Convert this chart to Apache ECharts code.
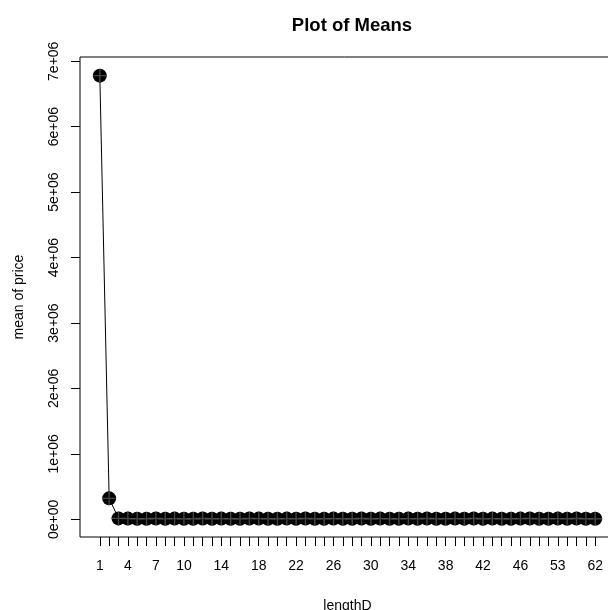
<!DOCTYPE html>
<html>
<head>
  <meta charset="UTF-8">
  <title>Plot of Means</title>
  <script src="https://cdn.jsdelivr.net/npm/echarts@6/dist/echarts.min.js"></script>
  <style>
    html, body { margin: 0; padding: 0; background: #fff; }
    #chart { width: 608px; height: 610px; }
  </style>
</head>
<body>
  <div id="chart"></div>
  <script>
    // levels of lengthD (factor) and the mean price of each level
    var lengthD = [
      1, 2, 3, 4, 5, 6, 7, 8, 9, 10,
      11, 12, 13, 14, 15, 16, 17, 18, 19, 20,
      21, 22, 23, 24, 25, 26, 27, 28, 29, 30,
      31, 32, 33, 34, 35, 36, 37, 38, 39, 40,
      41, 42, 43, 44, 45, 46, 48, 50, 51, 53,
      55, 57, 60, 62
    ];
    var meanPrice = [
      6780000, 321000, 14000, 11000, 9000, 10000, 12000, 9000, 11000, 10000,
      9000, 12000, 10000, 11000, 9000, 10000, 12000, 11000, 9000, 10000,
      11000, 10000, 12000, 9000, 10000, 11000, 10000, 9000, 12000, 10000,
      11000, 10000, 9000, 11000, 10000, 12000, 10000, 9000, 11000, 10000,
      12000, 10000, 11000, 9000, 10000, 11000, 12000, 10000, 9000, 11000,
      10000, 12000, 9000, 10000
    ];
    // tick labels that R kept on the x axis
    var xLabels = [1, 4, 7, 10, 14, 18, 22, 26, 30, 34, 38, 42, 46, 53, 62];
    var yTicks = [0, 1e6, 2e6, 3e6, 4e6, 5e6, 6e6, 7e6];

    var pos = lengthD.map(function (v, i) { return i + 1; });
    var points = pos.map(function (p, i) { return [p, meanPrice[i]]; });
    var labelPos = xLabels.map(function (v) { return lengthD.indexOf(v) + 1; });

    function sci(v) {
      if (v === 0) return '0e+00';
      var e = Math.floor(Math.log10(v) + 1e-9);
      var m = Math.round(v / Math.pow(10, e));
      return m + 'e+' + (e < 10 ? '0' + e : e);
    }

    var n = pos.length;
    var pad = (n - 1) * 0.04;
    var font = 'Liberation Sans, Arial, Helvetica, sans-serif';

    var chart = echarts.init(document.getElementById('chart'));
    chart.setOption({
      animation: false,
      backgroundColor: '#fff',
      title: {
        text: 'Plot of Means',
        left: 347, top: 11, textAlign: 'center',
        textStyle: { fontFamily: font, fontSize: 18.5, fontWeight: 'bold', color: '#000' }
      },
      grid: {
        left: 80, top: 57, right: -7, bottom: 73,
        outerBoundsMode: 'none', containLabel: false,
        show: true, borderColor: '#000', borderWidth: 1, backgroundColor: 'transparent'
      },
      xAxis: {
        type: 'value',
        min: 1 - pad, max: n + pad,
        name: 'lengthD', nameLocation: 'middle', nameGap: 62,
        nameTextStyle: { fontFamily: font, fontSize: 14, color: '#000' },
        splitLine: { show: false },
        axisLine: { show: false, onZero: false },
        axisTick: { show: true, length: 9, customValues: pos, lineStyle: { color: '#000', width: 1 } },
        axisLabel: {
          customValues: labelPos, margin: 22,
          fontFamily: font, fontSize: 14, color: '#000',
          formatter: function (v) { return String(lengthD[Math.round(v) - 1]); }
        }
      },
      yAxis: {
        type: 'value',
        min: -270000, max: 7065000,
        name: 'mean of price', nameLocation: 'middle', nameGap: 54, nameRotate: 90,
        nameTextStyle: { fontFamily: font, fontSize: 14, color: '#000' },
        splitLine: { show: false },
        axisLine: { show: false, onZero: false },
        axisTick: { show: true, length: 9, customValues: yTicks, lineStyle: { color: '#000', width: 1 } },
        axisLabel: {
          customValues: yTicks, rotate: 90, margin: 19,
          fontFamily: font, fontSize: 14, color: '#000',
          formatter: sci
        }
      },
      series: [
        {
          type: 'line',
          data: points,
          symbol: 'circle', symbolSize: 14,
          showSymbol: true,
          itemStyle: { color: '#000' },
          lineStyle: { color: '#000', width: 1 },
          z: 2
        },
        {
          type: 'scatter',
          data: points,
          symbol: 'path://M9,0 L11,0 L11,9 L20,9 L20,11 L11,11 L11,20 L9,20 L9,11 L0,11 L0,9 L9,9 Z',
          symbolSize: 14,
          itemStyle: { color: '#555' },
          z: 3
        }
      ]
    });
  </script>
</body>
</html>
